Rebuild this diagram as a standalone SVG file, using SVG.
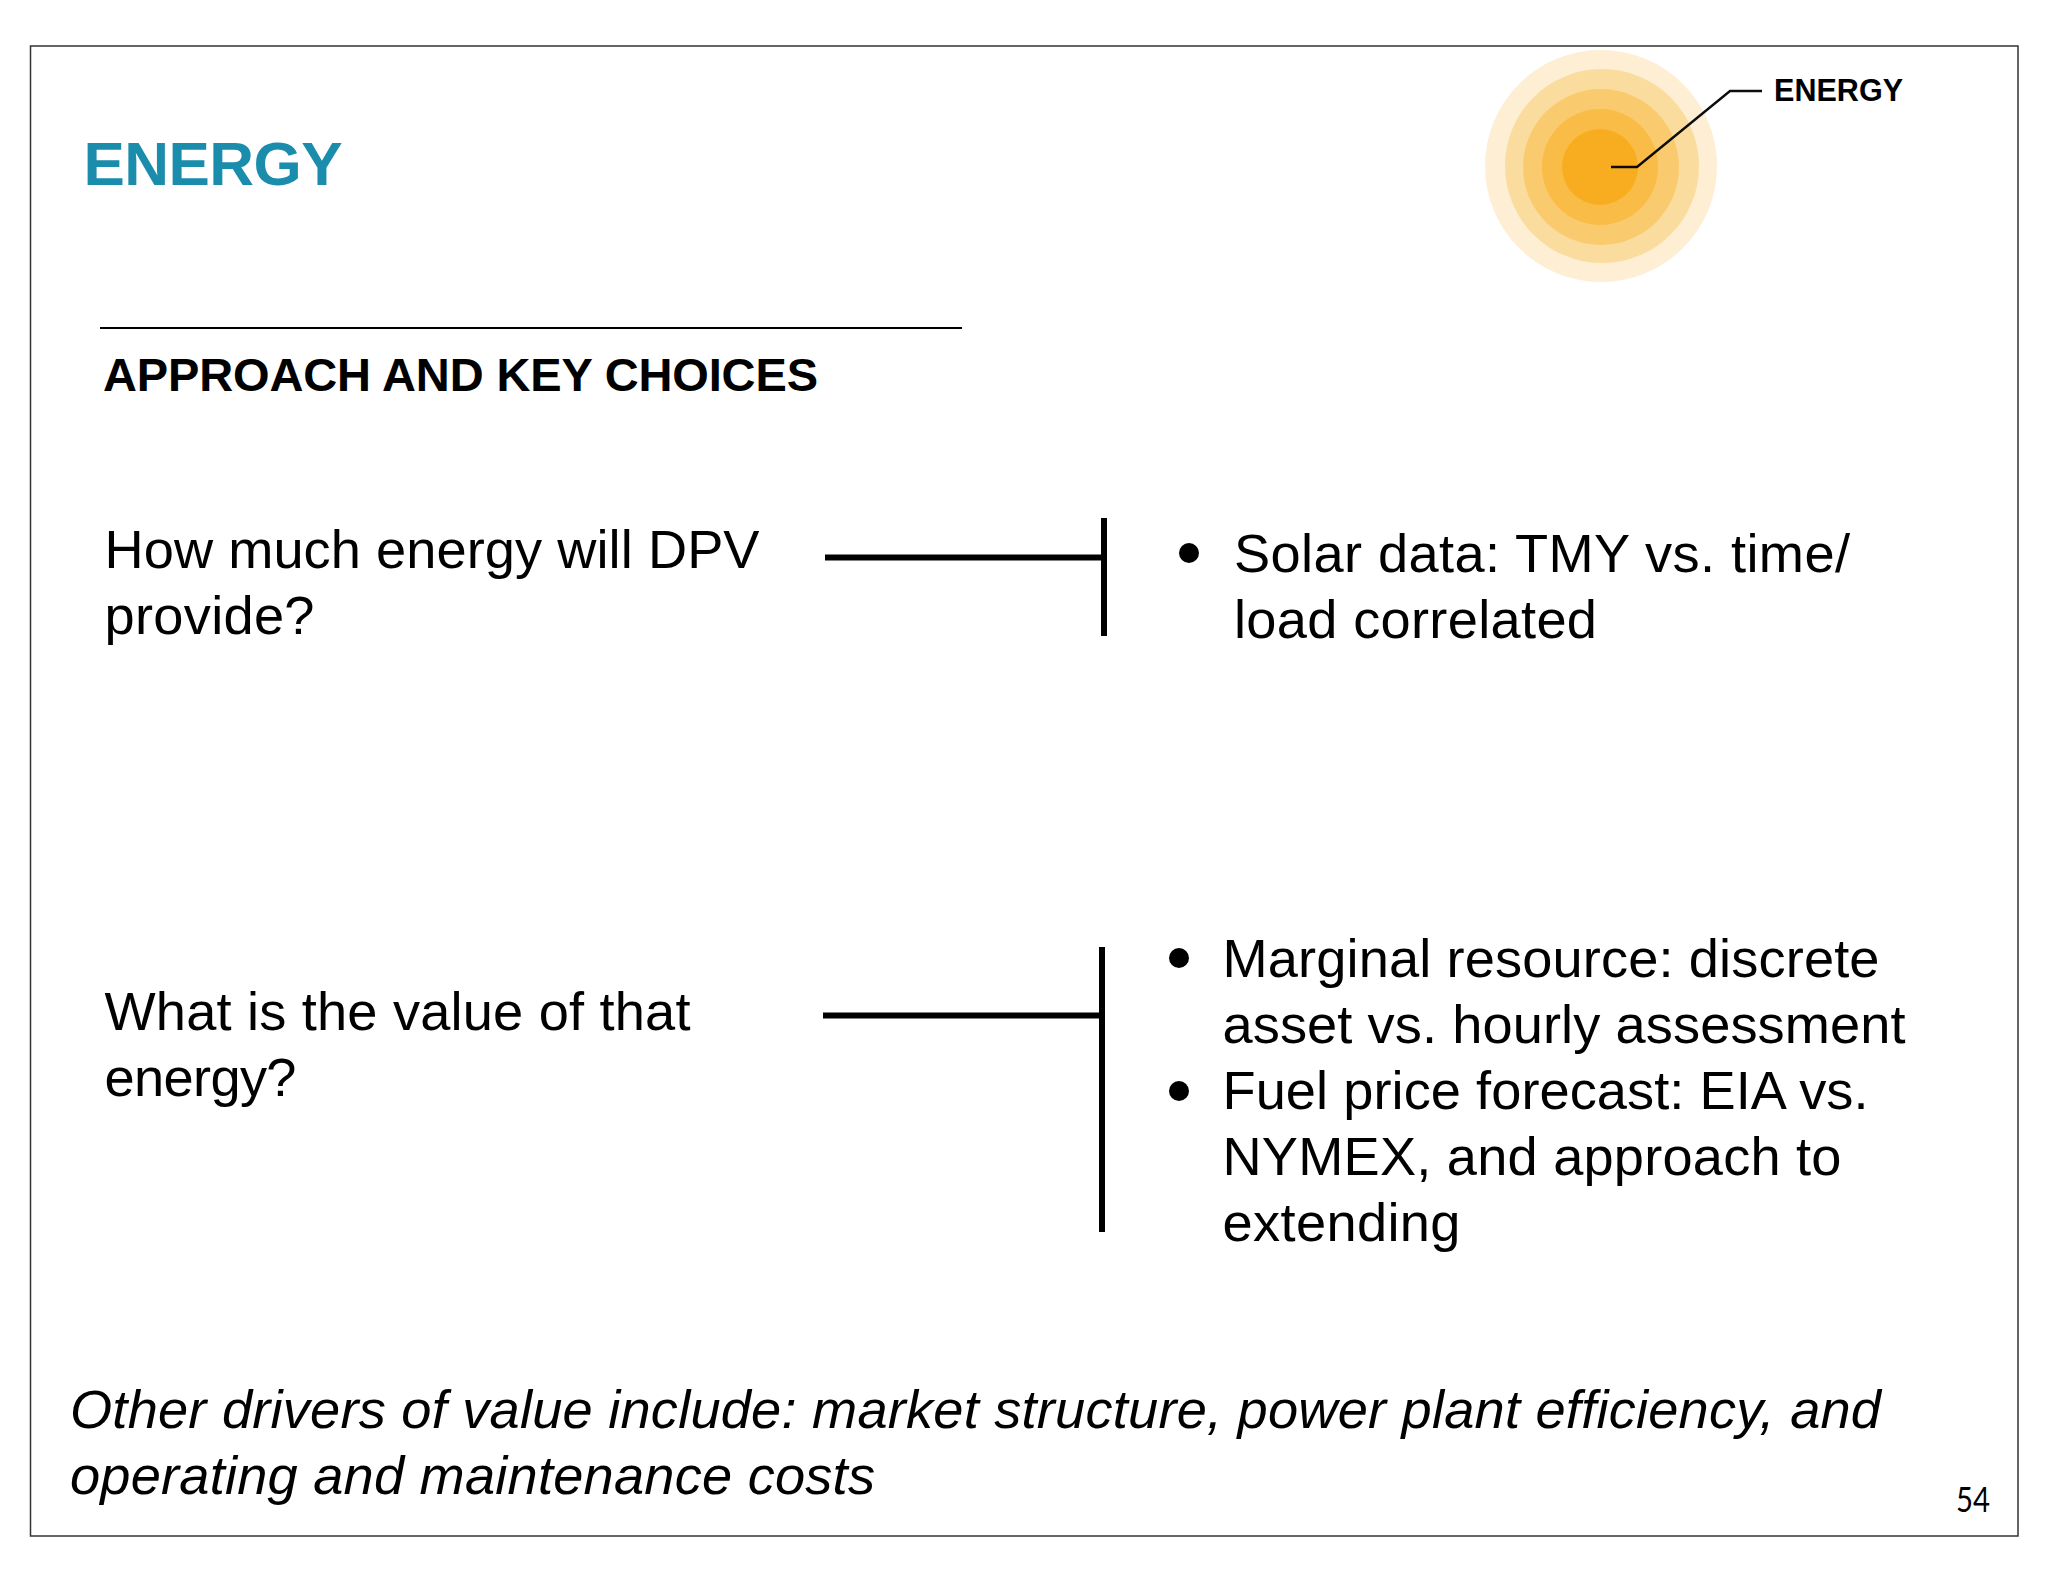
<svg xmlns="http://www.w3.org/2000/svg" width="2048" height="1582" viewBox="0 0 2048 1582">
<style>
text{font-family:"Liberation Sans",Arial,sans-serif;fill:#000}
.b{font-size:54.2px}
.h{font-weight:bold}
.c{fill:none;stroke:#000;stroke-width:6}
</style>
<rect width="2048" height="1582" fill="#fff"/>
<g id="frame"><rect x="30.5" y="46" width="1987.5" height="1490" fill="none" stroke="#333" stroke-width="1.5"/></g>
<g id="sun">
<circle cx="1601" cy="166" r="116" fill="#fdeed4"/>
<circle cx="1602" cy="166" r="97" fill="#fadc9e"/>
<circle cx="1601" cy="167" r="78" fill="#f9cb6e"/>
<circle cx="1600" cy="167" r="58" fill="#f9bc47"/>
<circle cx="1600" cy="167" r="38" fill="#f8ad21"/>
</g>
<g id="title"><text class="h" x="83.5" y="184.5" font-size="62" textLength="259" style="fill:#1a8dac">ENERGY</text></g>
<g id="sun-label"><text class="h" x="1774" y="100.5" font-size="30.5" textLength="129">ENERGY</text></g>
<g id="heading">
<line x1="100" y1="328" x2="962" y2="328" stroke="#000" stroke-width="2"/>
<text class="h" x="103" y="390.5" font-size="47" textLength="715">APPROACH AND KEY CHOICES</text>
</g>
<g id="q1"><text class="b" x="104.5" y="568" textLength="655">How much energy will DPV</text><text class="b" x="104.5" y="634" textLength="210">provide?</text></g>
<g id="a1">
<circle cx="1189" cy="553" r="10"/>
<text class="b" x="1234" y="572" textLength="616">Solar data: TMY vs. time/</text><text class="b" x="1234" y="638" textLength="363">load correlated</text></g>
<g id="q2"><text class="b" x="104.5" y="1030" textLength="586">What is the value of that</text><text class="b" x="104.5" y="1096" textLength="192">energy?</text></g>
<g id="a2">
<circle cx="1179" cy="958" r="10"/>
<circle cx="1179" cy="1091" r="10"/>
<text class="b" x="1222.5" y="977" textLength="657">Marginal resource: discrete</text><text class="b" x="1222.5" y="1043" textLength="683">asset vs. hourly assessment</text><text class="b" x="1222.5" y="1109" textLength="646">Fuel price forecast: EIA vs.</text><text class="b" x="1222.5" y="1175" textLength="619">NYMEX, and approach to</text><text class="b" x="1222.5" y="1241" textLength="238">extending</text></g>
<g id="note"><text class="b" x="70" y="1428" font-style="italic" textLength="1811">Other drivers of value include: market structure, power plant efficiency, and</text><text class="b" x="70" y="1494" font-style="italic" textLength="805">operating and maintenance costs</text></g>
<g id="page"><text x="1956" y="1512" font-size="35" textLength="34" lengthAdjust="spacingAndGlyphs" style="font-family:Lato,sans-serif">54</text></g>
<g id="connectors">
<path d="M1611 167H1637L1730 91H1762" fill="none" stroke="#000" stroke-width="2.4" opacity=".95"/>
<path class="c" d="M825 557.5H1104M1104 518V636"/>
<path class="c" d="M823 1015.5H1102M1102 947V1232"/>
</g>
</svg>
